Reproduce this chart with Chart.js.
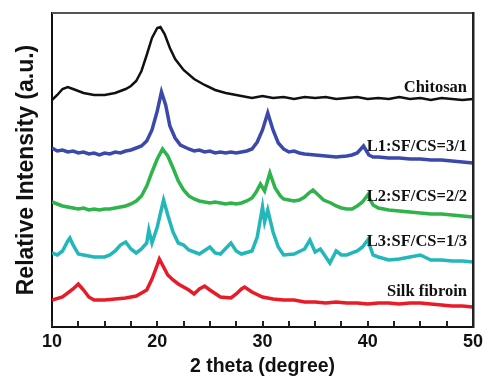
<!DOCTYPE html>
<html>
<head>
<meta charset="utf-8">
<script src="https://cdn.jsdelivr.net/npm/chart.js@4"></script>
<style>
  html, body { margin: 0; padding: 0; background: #fff; }
  #wrap { width: 500px; height: 391px; }
</style>
</head>
<body>
<div id="wrap"><canvas id="xrd"></canvas></div>
<script>
// values (intensity in arbitrary stacked units)
const chitosanTheta = [10,10.5,11,11.5,12,12.5,13,14,15,16,17,17.5,18,18.5,19,19.5,20,20.3,20.7,21.2,21.7,22.5,23.5,24.5,25.5,26.5,28,29,30,31,32,33,34,35,36,37,38,39,40,41,42,43,44,45,46,47,48,49,50];
const chitosanI = [227,232,238,240,238,236,234,232,232,234,238,241,246,256,272,289,299,300,293,279,268,257,248,242,237,234,231,229,231,229,230,228,230,229,230,228,229,230,228,229,228,230,228,229,227,229,228,227,228];

const l1Theta = [10,10.5,11,11.5,12,12.5,13,13.5,14,14.5,15,15.5,16,16.5,17,17.5,18,18.5,19,19.5,20,20.4,20.8,21.2,21.7,22.2,23,23.5,24,24.5,25,25.5,26,26.5,27,27.5,28,28.5,29,29.5,30,30.5,31,31.5,32,32.5,33,33.5,34,35,36,37,38,38.5,39,39.6,40.1,40.5,41,42,43,44,45,46,47,48,49,50];
const l1I = [179,176,177,175,176,174,175,173,174,172,174,173,175,174,176,177,179,181,186,197,216,235,222,201,189,182,178,176,177,175,176,174,175,174,175,174,175,176,178,185,197,214,197,184,178,175,176,174,173,172,171,170,171,172,174,181,172,170,170,169,169,168,168,167,167,166,165,164];

const l2Theta = [10,10.5,11,11.5,12,12.5,13,13.5,14,14.5,15,15.5,16,16.5,17,17.5,18,18.5,19,19.5,20,20.5,21,21.5,22,22.5,23,23.5,24,24.5,25,25.5,26,26.5,27,27.5,28,28.5,29,29.4,29.8,30.2,30.7,31.2,31.7,32,32.5,33,33.5,34,34.4,34.8,35.3,35.8,36.5,37,37.5,38,38.5,39,39.5,40,40.5,41,41.5,42,43,44,45,46,47,48,49,50];
const l2I = [125,123,121,120,119,118,119,117,118,117,118,118,119,120,121,123,126,131,141,155,168,178,171,159,146,137,131,128,126,125,124,125,124,123,124,123,124,126,129,135,143,136,154,139,131,128,127,126,127,130,134,137,132,127,124,121,119,118,118,121,125,132,122,119,118,117,116,115,114,113,113,112,111,110];

const l3Theta = [10,10.5,11,11.5,11.7,12,12.5,13,14,15,15.5,16,16.5,17,17.5,18,18.5,19,19.2,19.5,20,20.6,21,21.5,22,22.5,23,24,25,25.5,26,27,27.5,28,29,29.5,30,30.2,30.5,31,31.5,32,33,34,34.5,35,35.5,36.4,37,37.5,38,39,39.5,40,40.5,41,42,43,44,45,46,47,48,49,50];
const l3I = [74,72,76,86,89,82,73,72,70,70,72,76,82,85,78,74,78,84,97,84,100,127,112,95,84,82,77,73,80,74,73,84,76,73,76,90,120,105,117,95,80,72,73,78,87,75,78,64,76,72,72,76,80,87,72,70,67,68,70,72,67,67,66,66,65];

const silkTheta = [10,11,12,12.5,13,13.5,14,15,16,17,18,19,19.5,20,20.2,20.6,21,21.5,22,23,23.5,24,24.5,25,26,27,27.5,28,28.3,29,30,31,32,33,34,35,36,37,38,39,40,41,42,43,44,45,46,47,48,49,50];
const silkI = [27,30,38,43,37,30,27,27,28,29,31,37,48,62,68,60,52,47,43,37,33,38,41,37,30,29,33,38,40,35,30,28,27,27,25,25,24,25,24,24,23,24,24,23,24,24,23,22,21,21,20];

const seriesNames = ['Chitosan', 'L1:SF/CS=3/1', 'L2:SF/CS=2/2', 'L3:SF/CS=1/3', 'Silk fibroin'];
const seriesColors = ['#111111', '#3b4aaa', '#2fb34b', '#22b7b8', '#e81c28'];
const seriesWidths = [2.5, 3.5, 3.5, 3.5, 3.5];
const labelLevels = [239, 180, 130, 85, 35];
const xMinorTicks = [10,12.5,15,17.5,20,22.5,25,27.5,30,32.5,35,37.5,40,42.5,45,47.5,50];

function zip(t, v) {
  return t.map((x, i) => ({ x: x, y: v[i] }));
}

const allSeries = [
  zip(chitosanTheta, chitosanI),
  zip(l1Theta, l1I),
  zip(l2Theta, l2I),
  zip(l3Theta, l3I),
  zip(silkTheta, silkI)
];

// curve labels, top/right frame and inward ticks
const decor = {
  id: 'decor',
  afterDraw(chart) {
    const ctx = chart.ctx;
    const xs = chart.scales.x, ys = chart.scales.y;
    const l = xs.getPixelForValue(10), r = xs.getPixelForValue(50);
    const t = ys.getPixelForValue(314), b = ys.getPixelForValue(0);
    ctx.save();
    ctx.fillStyle = '#555';
    ctx.fillRect(l, t - 1, r - l + 1, 2);
    ctx.fillStyle = '#222';
    ctx.fillRect(r - 1, t - 1, 2.5, b - t + 2);
    xMinorTicks.forEach(v => {
      ctx.fillRect(Math.round(xs.getPixelForValue(v)) - 1, b - 6, 2, 6);
    });
    ctx.fillStyle = '#111';
    ctx.font = 'bold 16.5px "Liberation Serif", "Times New Roman", serif';
    ctx.textAlign = 'right';
    ctx.textBaseline = 'middle';
    seriesNames.forEach((n, i) => {
      ctx.fillText(n, r - 6, ys.getPixelForValue(labelLevels[i]));
    });
    ctx.restore();
  }
};

const boldSans = '"Liberation Sans", Arial, sans-serif';

new Chart(document.getElementById('xrd'), {
  type: 'line',
  data: {
    datasets: allSeries.map((d, i) => ({
      label: seriesNames[i],
      data: d,
      borderColor: seriesColors[i],
      borderWidth: seriesWidths[i],
      pointRadius: 0,
      tension: 0
    }))
  },
  options: {
    responsive: true,
    maintainAspectRatio: false,
    animation: false,
    layout: { padding: { top: 13, right: 27, left: 0, bottom: 0 } },
    plugins: { legend: { display: false }, tooltip: { enabled: false } },
    scales: {
      x: {
        type: 'linear',
        min: 10,
        max: 50,
        afterFit(s) { s.height = 64; },
        afterBuildTicks(s) { s.ticks = [10, 20, 30, 40, 50].map(v => ({ value: v })); },
        grid: { display: false, drawTicks: false },
        border: { display: true, color: '#111', width: 2 },
        ticks: {
          padding: 4,
          maxRotation: 0,
          color: '#111',
          font: { family: boldSans, size: 18, weight: 'bold' }
        },
        title: {
          display: true,
          text: '2 theta (degree)',
          color: '#111',
          padding: { top: 0, bottom: 13 },
          font: { family: boldSans, size: 19.5, weight: 'bold' }
        }
      },
      y: {
        min: 0,
        max: 314,
        afterFit(s) { s.width = 52; },
        grid: { display: false, drawTicks: false },
        border: { display: true, color: '#111', width: 2 },
        ticks: { display: false },
        title: {
          display: true,
          text: 'Relative Intensity (a.u.)',
          color: '#111',
          padding: { top: 13, bottom: 0 },
          font: { family: boldSans, size: 23, weight: 'bold' }
        }
      }
    }
  },
  plugins: [decor]
});
</script>
</body>
</html>
